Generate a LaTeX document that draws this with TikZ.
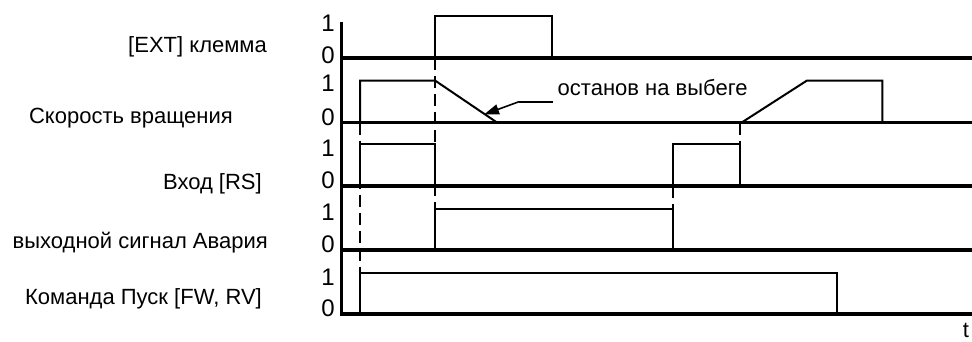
\documentclass[tikz,border=0pt]{standalone}
\usepackage{fontspec}
\setmainfont{Liberation Sans}
\usetikzlibrary{arrows.meta}
\begin{document}
\begin{tikzpicture}[x=1pt,y=-1pt,
  base/.style={line width=3.2pt},
  sig/.style={line width=2pt},
  dsh/.style={line width=2pt, dash pattern=on 12pt off 6pt},
  lbl/.style={font=\fontsize{22}{26}\selectfont, inner sep=0pt},
  dig/.style={font=\fontsize{24}{28}\selectfont, inner sep=0pt}]
\useasboundingbox (0,0) rectangle (972,341);
% dashed guide lines
\draw[dsh] (360,122.5) -- (360,273);
\draw[dsh] (435,58) -- (435,209);
\draw[dsh] (673.3,186) -- (673.3,209);
\draw[dsh] (740,122.5) -- (740,144.3);
% axis and baselines
\draw[base] (341.7,21.7) -- (341.7,316);
\foreach \yy in {58,122.5,186,250,314} \draw[base] (341.7,\yy) -- (972,\yy);
% row 1: [EXT]
\draw[sig] (435,58) -- (435,16) -- (551.7,16) -- (551.7,58);
% row 2: speed
\draw[sig] (360,122.5) -- (360,80.5) -- (435,80.5) -- (497,122.5);
\draw[sig] (741.7,122.5) -- (806.7,80.7) -- (882.3,80.7) -- (882.3,122.5);
% row 3: RS
\draw[sig] (360,186) -- (360,144.3) -- (435,144.3) -- (435,186);
\draw[sig] (673.3,186) -- (673.3,144.3) -- (740,144.3) -- (740,186);
% row 4: alarm
\draw[sig] (435,250) -- (435,209) -- (673.3,209) -- (673.3,250);
% row 5: run command
\draw[sig] (360,314) -- (360,273) -- (836.7,273) -- (836.7,314);
% annotation
\coordinate (annR) at (552.7,101.7);
\coordinate (annL) at (519,101.7);
\coordinate (annT) at (484,114.5);
\draw[sig] (annR) -- (annL);
\draw[line width=1.6pt, -{Triangle[length=15pt,width=10pt]}] (annL) -- (annT);
\node[lbl, anchor=base west] (coast) at (557.5,95) {останов на выбеге};
% row labels
\node[lbl, anchor=base east] (l1) at (267,52) {[EXT] клемма};
\node[lbl, anchor=base east] (l2) at (233,123) {Скорость вращения};
\node[lbl, anchor=base east] (l3) at (262,189) {Вход [RS]};
\node[lbl, anchor=base east] (l4) at (268,248) {выходной сигнал Авария};
\node[lbl, anchor=base east] (l5) at (262,304) {Команда Пуск [FW, RV]};
% digits
\node[dig, anchor=base] (d11) at (328,31.7) {1};
\node[dig, anchor=base] (d10) at (328,63) {0};
\node[dig, anchor=base] (d21) at (328,91.7) {1};
\node[dig, anchor=base] (d20) at (328,125) {0};
\node[dig, anchor=base] (d31) at (328,156.5) {1};
\node[dig, anchor=base] (d30) at (328,188.5) {0};
\node[dig, anchor=base] (d41) at (328,220) {1};
\node[dig, anchor=base] (d40) at (328,252) {0};
\node[dig, anchor=base] (d51) at (328,285) {1};
\node[dig, anchor=base] (d50) at (328,316.5) {0};
\node[lbl, anchor=base] (tt) at (966,337.5) {t};
\end{tikzpicture}
\end{document}
